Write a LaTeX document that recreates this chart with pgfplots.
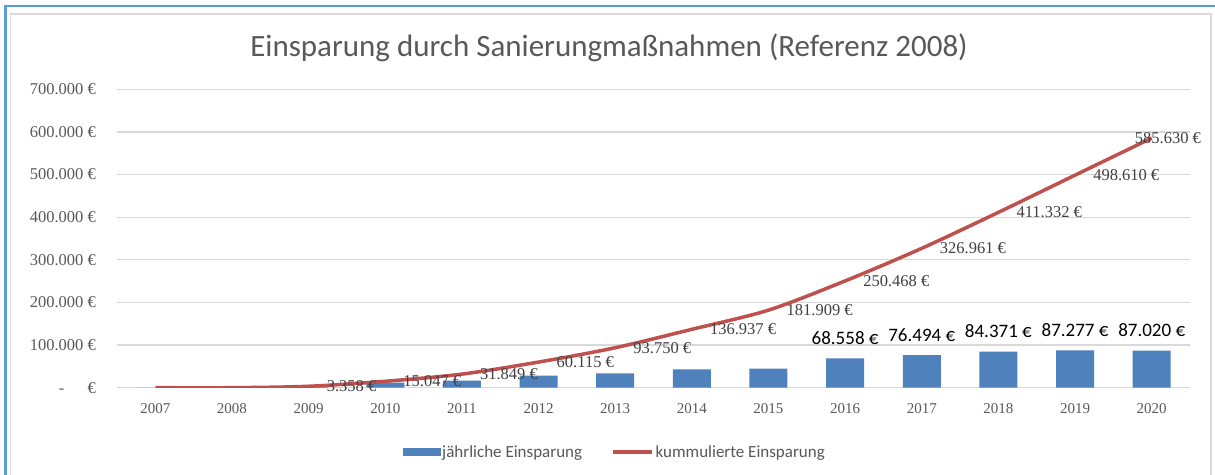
\documentclass[border=0pt]{standalone}
\usepackage{pgfplots}
\usepackage{pgfplotstable}
\pgfplotsset{compat=1.18}
\usepackage{fontspec}
\setmainfont{Carlito}
\newfontfamily\serifnum{Liberation Serif}
\definecolor{barblue}{HTML}{4F81BD}
\definecolor{linered}{HTML}{C0504D}
\definecolor{txtgray}{HTML}{595959}
\definecolor{labgray}{HTML}{404040}
\definecolor{gridgray}{HTML}{D9D9D9}
\definecolor{framegray}{HTML}{D9D9D9}
\definecolor{frameblue}{HTML}{5B9BD5}

\pgfplotstableread{
x jahr kum
0 0 0
1 0 0
2 3358 3358
3 11689 15047
4 16802 31849
5 28266 60115
6 33635 93750
7 43187 136937
8 44972 181909
9 68558 250468
10 76494 326961
11 84371 411332
12 87277 498610
13 87020 585630
}\datatable

\begin{document}
\begin{tikzpicture}[x=1bp,y=1bp]
\useasboundingbox (-117,-87.3) rectangle (1098,387.7);
\fill[white] (-117,-87.3) rectangle (1098,387.7);
\begin{axis}[
  at={(0,0)}, anchor=south west,
  scale only axis, width=1073bp, height=298.4bp,
  xmin=-0.5, xmax=13.5, ymin=0, ymax=700000,
  scaled y ticks=false,
  xtick={0,...,13},
  xticklabels={2007,2008,2009,2010,2011,2012,2013,2014,2015,2016,2017,2018,2019,2020},
  ytick={0,100000,200000,300000,400000,500000,600000,700000},
  yticklabels={{-\hspace{1.4em}€},{100.000 €},{200.000 €},{300.000 €},{400.000 €},{500.000 €},{600.000 €},{700.000 €}},
  ymajorgrids, grid style={gridgray, line width=1.2bp},
  axis x line*=bottom, axis y line*=left,
  axis line style={draw=none},
  major tick length=0pt,
  xticklabel style={font=\serifnum\fontsize{15bp}{18bp}\selectfont, text=txtgray, inner sep=0pt},
  yticklabel style={font=\serifnum\fontsize{16.5bp}{19bp}\selectfont, text=txtgray, inner sep=0pt},
  xticklabel shift=16bp,
  yticklabel shift=21bp,
  legend style={at={(0.4637,-0.2155)}, anchor=center, draw=none, fill=none,
    font=\fontsize{17bp}{20bp}\selectfont, text=txtgray,
    /tikz/every even column/.append style={column sep=28bp},
    nodes={inner sep=1.5bp}},
  legend columns=2,
  legend cell align=left,
]
\addplot[ybar, bar width=38bp, fill=barblue, draw=none,
  legend image code/.code={\fill[barblue] (0bp,-4bp) rectangle (38bp,4bp);}]
  table[x=x,y=jahr]{\datatable};
\addlegendentry{jährliche Einsparung}
\addplot[linered, line width=3.5bp, smooth, tension=0.5, mark=none,
  legend image code/.code={\draw[linered, line width=3.5bp] (0bp,0bp) -- (39bp,0bp);}]
  table[x=x,y=kum]{\datatable};
\addlegendentry{kummulierte Einsparung}
% line labels
\addplot[draw=none, mark=none, forget plot, nodes near coords, point meta=explicit symbolic,
  nodes near coords style={anchor=west, xshift=18bp, inner sep=0pt,
    font=\serifnum\fontsize{16.5bp}{19bp}\selectfont, text=labgray}]
  coordinates {
  (2,3358) [3.358 €]
  (3,15047) [15.047 €]
  (4,31849) [31.849 €]
  (5,60115) [60.115 €]
  (6,93750) [93.750 €]
  (7,136937) [136.937 €]
  (8,181909) [181.909 €]
  (9,250468) [250.468 €]
  (10,326961) [326.961 €]
  (11,411332) [411.332 €]
  (12,498610) [498.610 €]
  };
\addplot[draw=none, mark=none, forget plot, nodes near coords, point meta=explicit symbolic,
  nodes near coords style={anchor=west, xshift=-17bp, inner sep=0pt,
    font=\serifnum\fontsize{16.5bp}{19bp}\selectfont, text=labgray}]
  coordinates {(13,585630) [585.630 €]};
% bar labels
\addplot[draw=none, mark=none, forget plot, nodes near coords, point meta=explicit symbolic,
  nodes near coords style={anchor=base, yshift=14bp, inner sep=0pt,
    font=\fontsize{19bp}{22bp}\selectfont, text=black}]
  coordinates {
  (9,68558) [68.558 €]
  (10,76494) [76.494 €]
  (11,84371) [84.371 €]
  (12,87277) [87.277 €]
  (13,87020) [87.020 €]
  };
\end{axis}
\node[anchor=base, font=\fontsize{31bp}{36bp}\selectfont, text=txtgray] at (492,331)
  {Einsparung durch Sanierungmaßnahmen (Referenz 2008)};
\draw[framegray, line width=1.5bp] (-106.5,-95) -- (-106.5,373.7) -- (1094,373.7) -- (1094,-95);
\draw[frameblue, line width=2.5bp] (-111.5,-95) -- (-111.5,381.5) -- (1105,381.5);
\end{tikzpicture}
\end{document}
